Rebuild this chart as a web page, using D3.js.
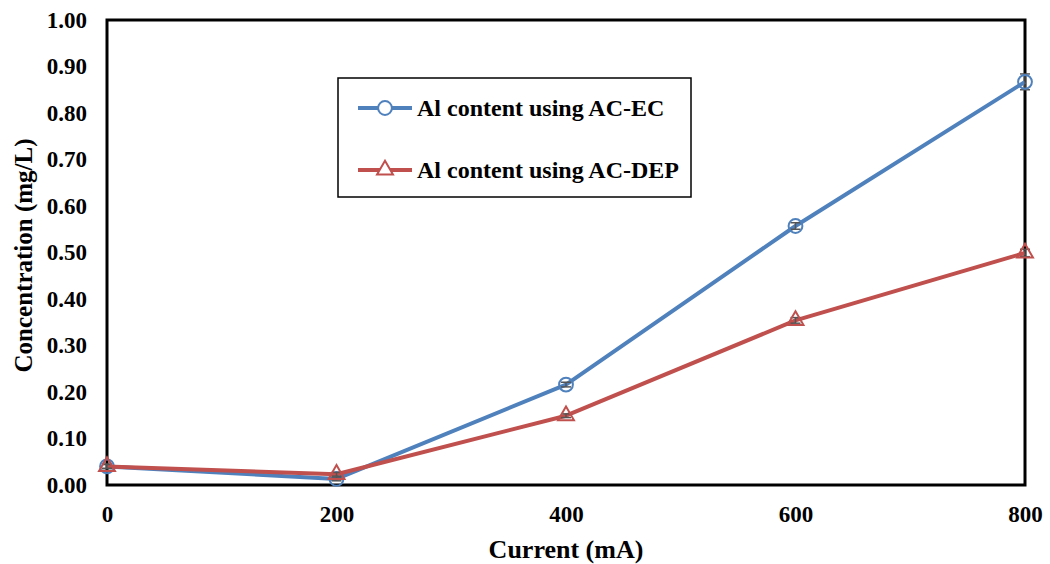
<!DOCTYPE html>
<html>
<head>
<meta charset="utf-8">
<script src="https://cdn.jsdelivr.net/npm/d3@7"></script>
<style>
  html, body { margin: 0; padding: 0; background: #fff; }
  svg { display: block; }
  svg text { font-family: "Liberation Serif", "Times New Roman", serif; font-weight: bold; fill: #000; }
</style>
</head>
<body>
<svg id="chart" width="1050" height="564"></svg>
<script>
// Current (mA) levels
const currents = [0, 200, 400, 600, 800];
// Aluminium concentration (mg/L)
const ecValues  = [0.040, 0.013, 0.216, 0.557, 0.867];
const depValues = [0.040, 0.023, 0.149, 0.354, 0.499];
// Standard deviation for each point
const ecErrors  = [0.005, 0.004, 0.005, 0.007, 0.017];
const depErrors = [0.004, 0.004, 0.004, 0.006, 0.008];
const yTicks = [0, 0.1, 0.2, 0.3, 0.4, 0.5, 0.6, 0.7, 0.8, 0.9, 1.0];
const xTicks = [0, 200, 400, 600, 800];
const seriesNames = ["Al content using AC-EC", "Al content using AC-DEP"];

const margin = { left: 107, right: 25, top: 20, bottom: 79 };
const W = 1050, H = 564;
const svg = d3.select("#chart");

const x = d3.scaleLinear().domain([0, 800]).range([margin.left, W - margin.right]);
const y = d3.scaleLinear().domain([0, 1]).range([H - margin.bottom, margin.top]);

// Y axis labels
const yAxis = d3.axisLeft(y).tickValues(yTicks).tickFormat(d3.format(".2f")).tickSize(0).tickPadding(20);
const gy = svg.append("g").attr("transform", `translate(${margin.left},0)`).call(yAxis);
gy.attr("font-family", null).attr("font-size", null);
gy.select(".domain").remove();
gy.selectAll("text").style("font-size", "23px");

// X axis labels
const xAxis = d3.axisBottom(x).tickValues(xTicks).tickFormat(d3.format("d")).tickSize(0).tickPadding(21);
const gx = svg.append("g").attr("transform", `translate(0,${H - margin.bottom})`).call(xAxis);
gx.attr("font-family", null).attr("font-size", null);
gx.select(".domain").remove();
gx.selectAll("text").style("font-size", "23px");

// Plot frame
svg.append("rect")
  .attr("x", x(0)).attr("y", y(1))
  .attr("width", x(800) - x(0)).attr("height", y(0) - y(1))
  .attr("fill", "none").attr("stroke", "#000").attr("stroke-width", 3);

// Axis titles
svg.append("text").attr("x", 566).attr("y", 558)
  .attr("text-anchor", "middle").style("font-size", "26px").text("Current (mA)");
svg.append("text")
  .attr("transform", `translate(32,${(y(0) + y(1)) / 2 + 3}) rotate(-90)`)
  .attr("text-anchor", "middle").style("font-size", "25px").text("Concentration (mg/L)");

const series = [
  { name: seriesNames[0], values: ecValues, errors: ecErrors, color: "#4F81BD", marker: "circle" },
  { name: seriesNames[1], values: depValues, errors: depErrors, color: "#C0504D", marker: "triangle" }
];

const line = d3.line().x(d => x(d[0])).y(d => y(d[1]));
const circleSym = d3.symbol().type(d3.symbolCircle).size(150);
const triSym = d3.symbol().type(d3.symbolTriangle).size(110);

series.forEach(s => {
  const pts = currents.map((c, i) => [c, s.values[i], s.errors[i]]);
  svg.append("path").datum(pts).attr("d", line)
    .attr("fill", "none").attr("stroke", s.color).attr("stroke-width", 4).attr("stroke-linejoin", "round");

  // error bars
  const eb = svg.append("g").attr("stroke", "#555").attr("stroke-width", 1.5);
  pts.forEach(p => {
    const cx = x(p[0]);
    eb.append("line").attr("x1", cx).attr("x2", cx).attr("y1", y(p[1] - p[2])).attr("y2", y(p[1] + p[2]));
    eb.append("line").attr("x1", cx - 5).attr("x2", cx + 5).attr("y1", y(p[1] - p[2])).attr("y2", y(p[1] - p[2]));
    eb.append("line").attr("x1", cx - 5).attr("x2", cx + 5).attr("y1", y(p[1] + p[2])).attr("y2", y(p[1] + p[2]));
  });

  svg.append("g").selectAll("path").data(pts).join("path")
    .attr("d", s.marker === "circle" ? circleSym : triSym)
    .attr("transform", d => `translate(${x(d[0])},${y(d[1])})`)
    .attr("fill", "none").attr("stroke", s.color).attr("stroke-width", 2);
});

// Legend
const lg = svg.append("g");
lg.append("rect").attr("x", 338).attr("y", 78).attr("width", 353).attr("height", 119)
  .attr("fill", "#fff").attr("stroke", "#000").attr("stroke-width", 1.5);
series.forEach((s, i) => {
  const ly = 108 + i * 62;
  lg.append("line").attr("x1", 358).attr("x2", 412).attr("y1", ly).attr("y2", ly)
    .attr("stroke", s.color).attr("stroke-width", 4);
  lg.append("path").attr("d", s.marker === "circle" ? circleSym() : triSym())
    .attr("transform", `translate(385,${ly})`)
    .attr("fill", "#fff").attr("stroke", s.color).attr("stroke-width", 2);
  lg.append("text").attr("x", 417).attr("y", ly + 8).style("font-size", "24px").text(s.name);
});
</script>
</body>
</html>
